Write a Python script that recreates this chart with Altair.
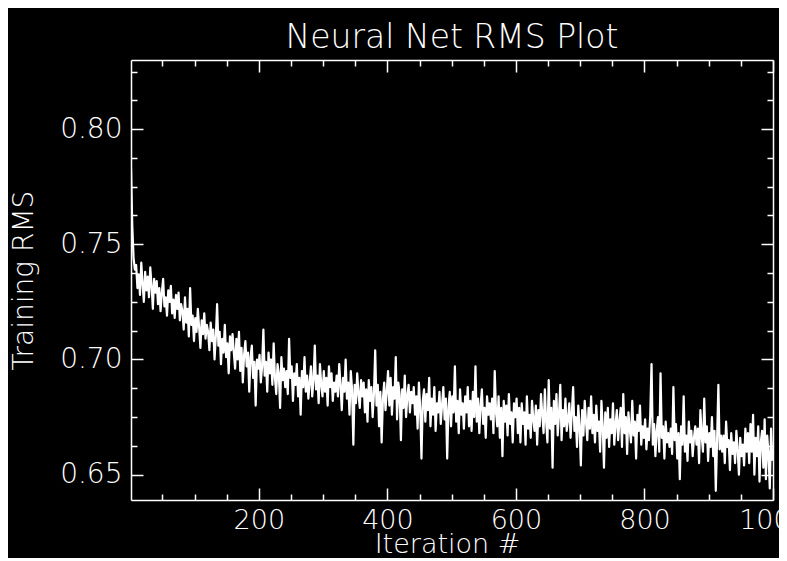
import altair as alt
import pandas as pd

# Training RMS, one value every 2 iterations (1, 3, 5, ... 999)
rms = [
    0.783, 0.758, 0.744, 0.739, 0.741, 0.731, 0.737, 0.728, 0.742, 0.733, 0.725, 0.738, 0.730, 0.736, 0.727, 0.740, 0.732, 0.722, 0.735, 0.729,
    0.734, 0.724, 0.731, 0.721, 0.729, 0.735, 0.723, 0.727, 0.719, 0.730, 0.725, 0.732, 0.720, 0.726, 0.718, 0.728, 0.722, 0.729, 0.717, 0.724,
    0.721, 0.713, 0.727, 0.716, 0.722, 0.710, 0.731, 0.715, 0.719, 0.708, 0.718, 0.712, 0.722, 0.714, 0.705, 0.717, 0.711, 0.720, 0.709, 0.715,
    0.712, 0.704, 0.716, 0.708, 0.713, 0.700, 0.710, 0.724, 0.706, 0.712, 0.698, 0.709, 0.703, 0.715, 0.701, 0.707, 0.694, 0.710, 0.704, 0.711,
    0.703, 0.696, 0.709, 0.700, 0.712, 0.695, 0.705, 0.690, 0.702, 0.708, 0.697, 0.703, 0.686, 0.701, 0.706, 0.692, 0.699, 0.680, 0.700, 0.696,
    0.702, 0.690, 0.697, 0.713, 0.693, 0.699, 0.686, 0.703, 0.694, 0.700, 0.689, 0.707, 0.692, 0.685, 0.698, 0.694, 0.679, 0.701, 0.691, 0.696,
    0.688, 0.695, 0.685, 0.709, 0.692, 0.697, 0.682, 0.694, 0.689, 0.698, 0.684, 0.692, 0.676, 0.695, 0.688, 0.701, 0.686, 0.693, 0.683, 0.690,
    0.697, 0.684, 0.691, 0.706, 0.687, 0.693, 0.681, 0.698, 0.689, 0.684, 0.695, 0.686, 0.692, 0.680, 0.697, 0.688, 0.694, 0.682, 0.690, 0.686,
    0.693, 0.684, 0.698, 0.689, 0.678, 0.692, 0.686, 0.700, 0.683, 0.690, 0.676, 0.695, 0.687, 0.663, 0.689, 0.681, 0.694, 0.685, 0.679, 0.691,
    0.684, 0.690, 0.677, 0.687, 0.673, 0.691, 0.682, 0.688, 0.675, 0.685, 0.704, 0.680, 0.689, 0.671, 0.686, 0.664, 0.683, 0.690, 0.678, 0.686,
    0.695, 0.680, 0.692, 0.676, 0.688, 0.683, 0.701, 0.674, 0.690, 0.685, 0.665, 0.687, 0.679, 0.693, 0.675, 0.684, 0.689, 0.677, 0.686, 0.681,
    0.688, 0.676, 0.684, 0.670, 0.690, 0.679, 0.657, 0.682, 0.687, 0.673, 0.685, 0.678, 0.692, 0.671, 0.683, 0.676, 0.688, 0.669, 0.681, 0.677,
    0.686, 0.672, 0.680, 0.688, 0.674, 0.683, 0.657, 0.679, 0.686, 0.671, 0.684, 0.677, 0.697, 0.673, 0.682, 0.668, 0.687, 0.676, 0.681, 0.670,
    0.684, 0.677, 0.688, 0.671, 0.682, 0.669, 0.686, 0.675, 0.697, 0.673, 0.683, 0.668, 0.680, 0.687, 0.672, 0.679, 0.666, 0.684, 0.676, 0.681,
    0.674, 0.683, 0.668, 0.695, 0.677, 0.671, 0.684, 0.666, 0.679, 0.658, 0.682, 0.673, 0.680, 0.667, 0.685, 0.672, 0.677, 0.664, 0.681, 0.675,
    0.683, 0.668, 0.679, 0.664, 0.681, 0.672, 0.677, 0.663, 0.684, 0.670, 0.676, 0.666, 0.682, 0.674, 0.669, 0.680, 0.663, 0.678, 0.671, 0.685,
    0.676, 0.668, 0.687, 0.673, 0.664, 0.691, 0.670, 0.679, 0.653, 0.682, 0.672, 0.685, 0.667, 0.676, 0.689, 0.665, 0.678, 0.671, 0.683, 0.669,
    0.674, 0.681, 0.666, 0.677, 0.688, 0.669, 0.675, 0.662, 0.680, 0.671, 0.654, 0.678, 0.667, 0.682, 0.673, 0.665, 0.679, 0.670, 0.684, 0.668,
    0.676, 0.664, 0.680, 0.669, 0.673, 0.660, 0.682, 0.671, 0.653, 0.677, 0.666, 0.679, 0.662, 0.674, 0.668, 0.681, 0.663, 0.672, 0.678, 0.665,
    0.673, 0.679, 0.662, 0.685, 0.668, 0.675, 0.659, 0.677, 0.670, 0.664, 0.682, 0.667, 0.673, 0.657, 0.676, 0.669, 0.680, 0.663, 0.671, 0.666,
    0.674, 0.661, 0.670, 0.665, 0.676, 0.698, 0.663, 0.672, 0.658, 0.669, 0.675, 0.660, 0.694, 0.666, 0.671, 0.657, 0.673, 0.664, 0.668, 0.662,
    0.670, 0.659, 0.688, 0.665, 0.672, 0.657, 0.668, 0.648, 0.671, 0.663, 0.684, 0.660, 0.667, 0.656, 0.673, 0.664, 0.669, 0.658, 0.666, 0.671,
    0.663, 0.670, 0.655, 0.678, 0.667, 0.660, 0.683, 0.664, 0.671, 0.656, 0.668, 0.662, 0.675, 0.658, 0.669, 0.643, 0.665, 0.689, 0.661, 0.667,
    0.660, 0.667, 0.655, 0.673, 0.662, 0.665, 0.652, 0.668, 0.659, 0.664, 0.655, 0.669, 0.661, 0.650, 0.666, 0.658, 0.663, 0.654, 0.670, 0.660,
    0.668, 0.655, 0.672, 0.660, 0.676, 0.650, 0.666, 0.658, 0.671, 0.647, 0.664, 0.669, 0.653, 0.674, 0.648, 0.667, 0.659, 0.644, 0.670, 0.656,
]
iterations = list(range(1, 2 * len(rms), 2))

x_labels = [200, 400, 600, 800, 1000]
x_ticks = [50, 100, 150, 200, 250, 300, 350, 400, 450, 500,
           550, 600, 650, 700, 750, 800, 850, 900, 950, 1000]
y_labels = [0.65, 0.70, 0.75, 0.80]
y_ticks = [0.65, 0.6625, 0.675, 0.6875, 0.70, 0.7125, 0.725, 0.7375,
           0.75, 0.7625, 0.775, 0.7875, 0.80, 0.8125, 0.825]
x_domain = [1, 1000]
y_domain = [0.639, 0.830]

df = pd.DataFrame({"iter": iterations, "rms": rms})

W, H = 642, 440
FONT = "DejaVu Sans"
WEIGHT = 200
FG = "white"

xs = alt.Scale(domain=x_domain, nice=False, zero=False)
ys = alt.Scale(domain=y_domain, nice=False, zero=False)

x_tick_size = {"condition": {"test": "datum.value % 200 === 0", "value": 12}, "value": 6}
y_tick_size = {"condition": {"test": "abs(datum.value * 20 - round(datum.value * 20)) < 0.001", "value": 12}, "value": 6}


def frame_axis(orient, offset, values, size):
    return alt.Axis(orient=orient, offset=offset, values=values, labels=False,
                    domain=True, domainColor=FG, domainWidth=1.5,
                    ticks=True, tickColor=FG, tickWidth=1.5, tickSize=size,
                    grid=False, title=None)


line = alt.Chart(df).mark_line(color=FG, strokeWidth=2.2, strokeJoin="round", clip=True).encode(
    x=alt.X("iter:Q", scale=xs, axis=alt.Axis(
        orient="bottom", values=x_labels, format="d", domain=False, ticks=False, tickSize=0,
        labelPadding=7, labelFont=FONT, labelFontSize=27, labelFontWeight=WEIGHT, labelColor=FG,
        labelFlush=False, labelOverlap=False, grid=False,
        title="Iteration #", titleFont=FONT, titleFontSize=27, titleFontWeight=WEIGHT, titleColor=FG,
        titleX=316, titleY=52, titleAlign="center", titleBaseline="alphabetic")),
    y=alt.Y("rms:Q", scale=ys, axis=alt.Axis(
        orient="left", values=y_labels, format=".2f", domain=False, ticks=False, tickSize=0,
        labelPadding=9, labelFont=FONT, labelFontSize=28, labelFontWeight=WEIGHT, labelColor=FG,
        labelOverlap=False, grid=False,
        title="Training RMS", titleFont=FONT, titleFontSize=28, titleFontWeight=WEIGHT, titleColor=FG,
        titleAngle=270, titleX=-99, titleY=220, titleAlign="center", titleBaseline="alphabetic")),
)

frame_a = alt.Chart(df).mark_line(opacity=0).encode(
    x=alt.X("iter:Q", scale=xs, axis=frame_axis("top", -H, x_ticks, x_tick_size)),
    y=alt.Y("rms:Q", scale=ys, axis=frame_axis("left", -W, y_ticks, y_tick_size)),
)

frame_b = alt.Chart(df).mark_line(opacity=0).encode(
    x=alt.X("iter:Q", scale=xs, axis=frame_axis("bottom", -H, x_ticks, x_tick_size)),
    y=alt.Y("rms:Q", scale=ys, axis=frame_axis("right", -W, y_ticks, y_tick_size)),
)

chart = alt.layer(line, frame_a, frame_b).resolve_scale(
    x="independent", y="independent"
).properties(
    width=W,
    height=H,
    background="black",
    autosize=alt.AutoSizeParams(type="none"),
    padding={"left": 123, "top": 52, "right": 6, "bottom": 58},
    title=alt.Title("Neural Net RMS Plot", font=FONT, fontSize=33, fontWeight=WEIGHT,
                    color=FG, anchor="middle", frame="group", offset=4),
).configure_view(stroke=None)

chart.save("out.html", embed_options={"renderer": "svg", "actions": False})
